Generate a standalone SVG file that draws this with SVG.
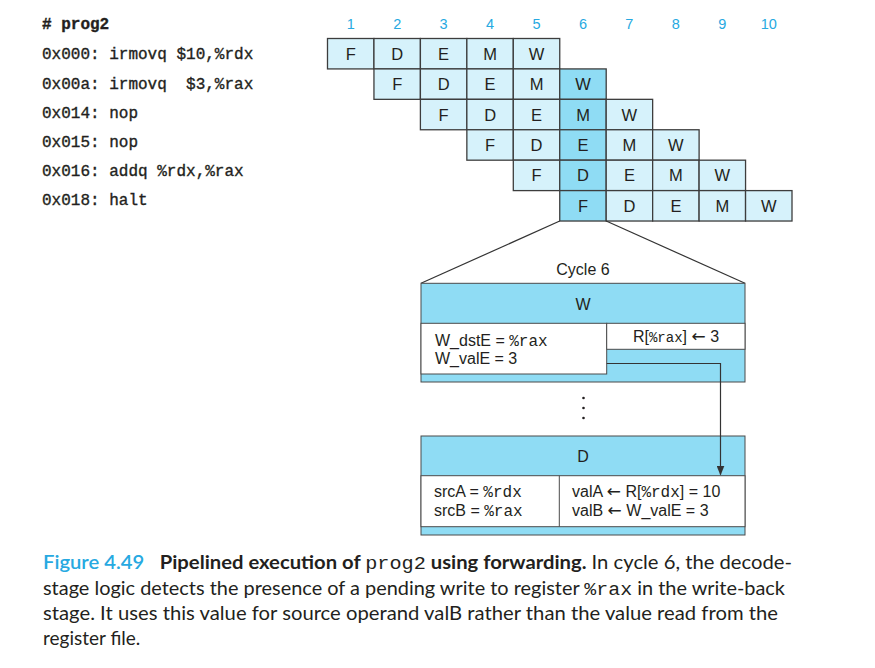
<svg xmlns="http://www.w3.org/2000/svg" width="875" height="668" viewBox="0 0 875 668">
<style>
.code{font-family:"Liberation Mono","Cousine","Nimbus Mono PS","FreeMono","Courier New",Courier,monospace;font-size:16px;fill:#231f20;stroke:#231f20;stroke-width:0.35}
.num{font-family:"Liberation Sans",Arial,sans-serif;font-size:14.5px;fill:#27a9e1;text-anchor:middle}
.lt{fill:#d6f2fb;stroke:#3d3d3d;stroke-width:1.3}
.dk{fill:#8fdcf4;stroke:#3d3d3d;stroke-width:1.3}
.cl{font-family:"Liberation Sans",Arial,sans-serif;font-size:16.5px;fill:#231f20;text-anchor:middle}
.bx{font-family:"Liberation Sans",Arial,sans-serif;font-size:16px;fill:#231f20}
.mono{font-family:"Liberation Mono","Cousine","Nimbus Mono PS","FreeMono","Courier New",Courier,monospace}
.arr{font-family:"DejaVu Sans",sans-serif;font-size:17px}
.blue{fill:#8fdcf4;stroke:#4a4a4a;stroke-width:1}
.wh{fill:#ffffff;stroke:#4a4a4a;stroke-width:1}
.ln{stroke:#333333;stroke-width:1.2;fill:none}
.cap{font-family:"Lato","Liberation Sans",sans-serif;font-size:19px;fill:#231f20}
</style>
<defs>
<marker id="ah" markerWidth="10" markerHeight="8" refX="9" refY="4" orient="auto" markerUnits="userSpaceOnUse">
<path d="M0,0 L10,4 L0,8 z" fill="#333333"/>
</marker>
</defs>
<rect width="875" height="668" fill="#ffffff"/>

<g id="code">
<text class="code" x="42" y="29" font-weight="bold">#&#160;prog2</text>
<text class="code" x="42" y="59" xml:space="preserve">0x000: irmovq $10,%rdx</text>
<text class="code" x="42" y="89" xml:space="preserve">0x00a: irmovq  $3,%rax</text>
<text class="code" x="42" y="118" xml:space="preserve">0x014: nop</text>
<text class="code" x="42" y="147" xml:space="preserve">0x015: nop</text>
<text class="code" x="42" y="176" xml:space="preserve">0x016: addq %rdx,%rax</text>
<text class="code" x="42" y="205" xml:space="preserve">0x018: halt</text>
</g>

<g id="cycles">
<text class="num" x="350.7" y="29">1</text>
<text class="num" x="397.2" y="29">2</text>
<text class="num" x="443.6" y="29">3</text>
<text class="num" x="490.1" y="29">4</text>
<text class="num" x="536.5" y="29">5</text>
<text class="num" x="583.0" y="29">6</text>
<text class="num" x="629.4" y="29">7</text>
<text class="num" x="675.9" y="29">8</text>
<text class="num" x="722.3" y="29">9</text>
<text class="num" x="768.8" y="29">10</text>
</g>

<g id="row1">
<g id="r1c1"><rect class="lt" x="327.5" y="38.5" width="46.45" height="30.42"/><text class="cl" x="350.7" y="59.7">F</text></g>
<g id="r1c2"><rect class="lt" x="373.95" y="38.5" width="46.45" height="30.42"/><text class="cl" x="397.2" y="59.7">D</text></g>
<g id="r1c3"><rect class="lt" x="420.4" y="38.5" width="46.45" height="30.42"/><text class="cl" x="443.6" y="59.7">E</text></g>
<g id="r1c4"><rect class="lt" x="466.85" y="38.5" width="46.45" height="30.42"/><text class="cl" x="490.1" y="59.7">M</text></g>
<g id="r1c5"><rect class="lt" x="513.3" y="38.5" width="46.45" height="30.42"/><text class="cl" x="536.5" y="59.7">W</text></g>
</g>
<g id="row2">
<g id="r2c2"><rect class="lt" x="373.95" y="68.92" width="46.45" height="30.42"/><text class="cl" x="397.2" y="90.1">F</text></g>
<g id="r2c3"><rect class="lt" x="420.4" y="68.92" width="46.45" height="30.42"/><text class="cl" x="443.6" y="90.1">D</text></g>
<g id="r2c4"><rect class="lt" x="466.85" y="68.92" width="46.45" height="30.42"/><text class="cl" x="490.1" y="90.1">E</text></g>
<g id="r2c5"><rect class="lt" x="513.3" y="68.92" width="46.45" height="30.42"/><text class="cl" x="536.5" y="90.1">M</text></g>
<g id="r2c6"><rect class="dk" x="559.75" y="68.92" width="46.45" height="30.42"/><text class="cl" x="583.0" y="90.1">W</text></g>
</g>
<g id="row3">
<g id="r3c3"><rect class="lt" x="420.4" y="99.34" width="46.45" height="30.42"/><text class="cl" x="443.6" y="120.5">F</text></g>
<g id="r3c4"><rect class="lt" x="466.85" y="99.34" width="46.45" height="30.42"/><text class="cl" x="490.1" y="120.5">D</text></g>
<g id="r3c5"><rect class="lt" x="513.3" y="99.34" width="46.45" height="30.42"/><text class="cl" x="536.5" y="120.5">E</text></g>
<g id="r3c6"><rect class="dk" x="559.75" y="99.34" width="46.45" height="30.42"/><text class="cl" x="583.0" y="120.5">M</text></g>
<g id="r3c7"><rect class="lt" x="606.2" y="99.34" width="46.45" height="30.42"/><text class="cl" x="629.4" y="120.5">W</text></g>
</g>
<g id="row4">
<g id="r4c4"><rect class="lt" x="466.85" y="129.76" width="46.45" height="30.42"/><text class="cl" x="490.1" y="151">F</text></g>
<g id="r4c5"><rect class="lt" x="513.3" y="129.76" width="46.45" height="30.42"/><text class="cl" x="536.5" y="151">D</text></g>
<g id="r4c6"><rect class="dk" x="559.75" y="129.76" width="46.45" height="30.42"/><text class="cl" x="583.0" y="151">E</text></g>
<g id="r4c7"><rect class="lt" x="606.2" y="129.76" width="46.45" height="30.42"/><text class="cl" x="629.4" y="151">M</text></g>
<g id="r4c8"><rect class="lt" x="652.65" y="129.76" width="46.45" height="30.42"/><text class="cl" x="675.9" y="151">W</text></g>
</g>
<g id="row5">
<g id="r5c5"><rect class="lt" x="513.3" y="160.18" width="46.45" height="30.42"/><text class="cl" x="536.5" y="181.4">F</text></g>
<g id="r5c6"><rect class="dk" x="559.75" y="160.18" width="46.45" height="30.42"/><text class="cl" x="583.0" y="181.4">D</text></g>
<g id="r5c7"><rect class="lt" x="606.2" y="160.18" width="46.45" height="30.42"/><text class="cl" x="629.4" y="181.4">E</text></g>
<g id="r5c8"><rect class="lt" x="652.65" y="160.18" width="46.45" height="30.42"/><text class="cl" x="675.9" y="181.4">M</text></g>
<g id="r5c9"><rect class="lt" x="699.1" y="160.18" width="46.45" height="30.42"/><text class="cl" x="722.3" y="181.4">W</text></g>
</g>
<g id="row6">
<g id="r6c6"><rect class="dk" x="559.75" y="190.6" width="46.45" height="30.42"/><text class="cl" x="583.0" y="211.8">F</text></g>
<g id="r6c7"><rect class="lt" x="606.2" y="190.6" width="46.45" height="30.42"/><text class="cl" x="629.4" y="211.8">D</text></g>
<g id="r6c8"><rect class="lt" x="652.65" y="190.6" width="46.45" height="30.42"/><text class="cl" x="675.9" y="211.8">E</text></g>
<g id="r6c9"><rect class="lt" x="699.1" y="190.6" width="46.45" height="30.42"/><text class="cl" x="722.3" y="211.8">M</text></g>
<g id="r6c10"><rect class="lt" x="745.55" y="190.6" width="46.45" height="30.42"/><text class="cl" x="768.8" y="211.8">W</text></g>
</g>

<g id="zoomlines">
<line class="ln" x1="559.75" y1="221" x2="421" y2="283.3"/>
<line class="ln" x1="606.2" y1="221" x2="745" y2="283.3"/>
<text class="bx" x="583" y="275" text-anchor="middle">Cycle 6</text>
</g>

<g id="wbox">
<rect class="blue" x="421" y="283.3" width="324" height="98.7"/>
<text class="bx" x="583" y="310" text-anchor="middle">W</text>
<rect class="wh" x="421" y="323.3" width="185.7" height="50.7"/>
<rect class="wh" x="606.7" y="323.3" width="138.3" height="26"/>
<text class="bx" x="435" y="346">W_dstE = <tspan class="mono" font-size="16">%rax</tspan></text>
<text class="bx" x="435" y="364">W_valE = 3</text>
<text class="bx" x="676" y="342" text-anchor="middle">R[<tspan class="mono" font-size="14">%rax</tspan>] <tspan class="arr">←</tspan> 3</text>
</g>

<g id="ellipsis" fill="#231f20">
<circle cx="583.5" cy="398" r="1.3"/>
<circle cx="583.5" cy="408" r="1.3"/>
<circle cx="583.5" cy="418" r="1.3"/>
</g>

<g id="dbox">
<rect class="blue" x="421" y="436" width="324" height="99"/>
<text class="bx" x="583" y="462" text-anchor="middle">D</text>
<rect class="wh" x="421" y="475.7" width="324" height="51"/>
<line x1="559.3" y1="475.7" x2="559.3" y2="526.7" stroke="#4a4a4a" stroke-width="1"/>
<text class="bx" x="434" y="497">srcA = <tspan class="mono" font-size="16">%rdx</tspan></text>
<text class="bx" x="434" y="516">srcB = <tspan class="mono" font-size="16">%rax</tspan></text>
<text class="bx" x="572" y="497">valA <tspan class="arr">←</tspan> R[<tspan class="mono" font-size="16">%rdx</tspan>] = 10</text>
<text class="bx" x="572" y="516">valB <tspan class="arr">←</tspan> W_valE = 3</text>
</g>

<g id="connectors">
<path class="ln" d="M606.7 363.5 H720.5 V474.5" marker-end="url(#ah)"/>
</g>

<g id="caption">
<text class="cap" x="43" y="569" textLength="749" lengthAdjust="spacingAndGlyphs"><tspan fill="#27a9e1" font-weight="600">Figure 4.49</tspan><tspan xml:space="preserve">   </tspan><tspan font-weight="bold">Pipelined execution of </tspan><tspan class="mono" font-size="19">prog2</tspan><tspan font-weight="bold"> using forwarding.</tspan> In cycle 6, the decode-</text>
<text class="cap" x="43" y="595" textLength="742" lengthAdjust="spacingAndGlyphs">stage logic detects the presence of a pending write to register <tspan class="mono" font-size="19">%rax</tspan> in the write-back</text>
<text class="cap" x="43" y="620" textLength="735" lengthAdjust="spacingAndGlyphs">stage. It uses this value for source operand valB rather than the value read from the</text>
<text class="cap" x="43" y="645">register file.</text>
</g>
</svg>
